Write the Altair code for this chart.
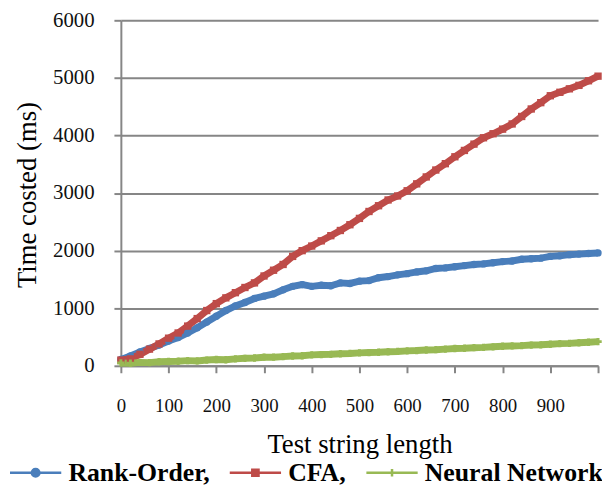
import altair as alt
import pandas as pd

series = ["Rank-Order", "CFA", "Neural Network"]
colors = ["#4a7ebb", "#be4b48", "#98b954"]
marker_shapes = ["circle", "square", "cross"]

lengths = list(range(0, 1001, 20))

rank_order = [110, 170, 240, 300, 360, 430, 490, 570, 660, 760,
              860, 960, 1040, 1100, 1170, 1210, 1250, 1320, 1380, 1410,
              1380, 1400, 1390, 1440, 1430, 1470, 1480, 1530, 1550, 1580,
              1600, 1630, 1650, 1690, 1700, 1720, 1740, 1760, 1770, 1790,
              1810, 1820, 1850, 1860, 1870, 1900, 1910, 1930, 1940, 1950,
              1960]
cfa = [100, 120, 200, 290, 380, 480, 570, 690, 820, 960,
       1080, 1180, 1270, 1360, 1440, 1560, 1660, 1760, 1900, 2000,
       2080, 2170, 2260, 2350, 2450, 2560, 2680, 2780, 2880, 2950,
       3040, 3160, 3280, 3400, 3510, 3630, 3740, 3850, 3960, 4030,
       4110, 4200, 4330, 4460, 4570, 4690, 4750, 4810, 4870, 4950,
       5030]
neural = [50, 45, 60, 55, 70, 75, 80, 90, 85, 100,
          110, 105, 120, 130, 135, 150, 150, 160, 170, 175,
          190, 195, 200, 210, 215, 225, 230, 235, 245, 250,
          260, 265, 275, 280, 290, 300, 305, 315, 320, 330,
          340, 345, 350, 360, 365, 375, 385, 390, 400, 410,
          420]

x_ticks = [0, 100, 200, 300, 400, 500, 600, 700, 800, 900, 1000]
y_ticks = [0, 1000, 2000, 3000, 4000, 5000, 6000]

rows = []
for name, vals in zip(series, [rank_order, cfa, neural]):
    for x, y in zip(lengths, vals):
        rows.append({"length": x, "time": y, "series": name})
df = pd.DataFrame(rows)
legend_df = pd.DataFrame({"series": series, "length": [0, 0, 0], "time": [0, 0, 0]})

FONT = "Liberation Serif"
GRAY = "#868686"

# legend symbols: line with marker in the middle (unit coords scaled by sqrt(size)/2)
paths = [
    "M-1,0H6.4M2.15,0A0.55,0.55 0 1 0 3.25,0A0.55,0.55 0 1 0 2.15,0"
    "M2.45,0A0.25,0.25 0 1 0 2.95,0A0.25,0.25 0 1 0 2.45,0",
    "M-1,0H6.4M2.25,-0.45H3.15V0.45H2.25ZM2.5,-0.2H2.9V0.2H2.5Z",
    "M-1,0H6.4M2.2,0H3.2M2.7,-0.55V0.55",
]

xenc = alt.X(
    "length:Q",
    scale=alt.Scale(domain=[0, 1000], nice=False, zero=True),
    axis=alt.Axis(
        values=x_ticks,
        labelExpr="datum.value == 1000 ? '' : datum.label",
        grid=False,
        title="Test string length",
        titleY=88,
        titleBaseline="alphabetic",
        titleFont=FONT,
        titleFontSize=27,
        titleFontWeight="normal",
        titleColor="#000000",
        labelFont=FONT,
        labelFontSize=19,
        labelColor="#111111",
        labelBaseline="alphabetic",
        labelPadding=39,
        labelFlush=False,
        labelOverlap=False,
        tickSize=7,
        tickColor=GRAY,
        tickWidth=2,
        domainColor=GRAY,
        domainWidth=2,
    ),
)
yenc = alt.Y(
    "time:Q",
    scale=alt.Scale(domain=[0, 6000], nice=False),
    axis=alt.Axis(
        values=y_ticks,
        format="d",
        title="Time costed (ms)",
        titleAngle=270,
        titleX=-94,
        titleY=176,
        titleAlign="center",
        titleBaseline="middle",
        titleFont=FONT,
        titleFontSize=27,
        titleFontWeight="normal",
        titleColor="#000000",
        labelFont=FONT,
        labelFontSize=21,
        labelColor="#111111",
        labelPadding=20,
        labelBaseline="middle",
        tickSize=7,
        tickColor=GRAY,
        tickWidth=2,
        domainColor=GRAY,
        domainWidth=2,
        gridColor=GRAY,
        gridWidth=2,
    ),
)

leg = alt.Legend(
    title=None,
    orient="none",
    legendX=-118,
    legendY=444,
    direction="horizontal",
    labelFont=FONT,
    labelFontSize=26,
    labelFontWeight="bold",
    labelColor="#000000",
    labelLimit=400,
    labelOffset=39,
    labelExpr="datum.label == 'Neural Network' ? datum.label : datum.label + ','",
    symbolSize=196,
    symbolStrokeWidth=2.5,
    symbolFillColor="transparent",
    symbolOpacity=1,
    columnPadding=14,
    fillColor="white",
    padding=0,
)

color_scale = alt.Scale(domain=series, range=colors)

lines = alt.Chart(df).mark_line(strokeWidth=7).encode(
    x=xenc,
    y=yenc,
    color=alt.Color("series:N", scale=color_scale, legend=leg),
)

# per-point markers of each series (as in the original line-with-markers chart)
marker_layers = []
for name, col, shp in zip(series, colors, marker_shapes):
    marker_layers.append(
        alt.Chart(df)
        .transform_filter(alt.datum.series == name)
        .mark_point(filled=True, shape=shp, size=55, color=col, opacity=1)
        .encode(x=xenc, y=yenc)
    )

# invisible points: only supply the per-series marker shapes of the legend
legend_markers = alt.Chart(legend_df).mark_point(
    filled=False, size=196, strokeWidth=2.5, opacity=0
).encode(
    x=xenc,
    y=yenc,
    color=alt.Color("series:N", scale=color_scale, legend=leg),
    shape=alt.Shape("series:N", scale=alt.Scale(domain=series, range=paths), legend=leg),
)

chart = alt.layer(lines, *marker_layers, legend_markers).properties(
    width=482,
    height=349,
    autosize=alt.AutoSizeParams(type="none"),
    padding={"left": 114, "top": 10, "right": 4, "bottom": 122},
    background="white",
).configure_view(stroke=None)

chart.save("out.html", embed_options={"renderer": "svg", "actions": False})
